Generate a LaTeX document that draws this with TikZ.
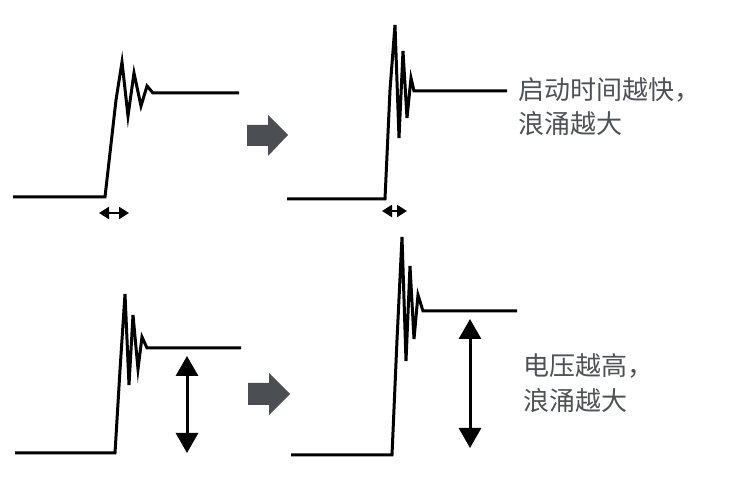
\documentclass[tikz,border=0pt]{standalone}
\usepackage{fontspec}
\newfontfamily\cjk{Noto Sans CJK SC}
\usetikzlibrary{arrows.meta}
\definecolor{arrowgray}{RGB}{75,78,83}
\definecolor{textgray}{RGB}{78,82,86}
\tikzset{
	wave/.style={line width=3pt, line join=miter},
	shortspan/.style={line width=2.2pt, {Triangle[width=12pt,length=10pt]}-{Triangle[width=12pt,length=10pt]}},
	levelspan/.style={line width=3pt, {Triangle[width=22pt,length=20pt]}-{Triangle[width=22pt,length=20pt]}},
	note/.style={anchor=west, inner sep=0pt, text=textgray, font=\cjk\fontsize{26}{30}\selectfont}
}

\begin{document}
\begin{tikzpicture}[x=1pt, y=-1pt]
			%%%%% START %%%%%
			\useasboundingbox (0, 0) rectangle (729, 486);
			
			% slow start
			\draw[wave] (13, 197) -- (105, 197) -- (116, 100) -- (122, 62) -- (128, 116) -- (134, 73) -- (141, 106) -- (147, 86) -- (153, 93) -- (239, 93);
			\draw[shortspan] (99, 213) -- (129, 213);
			
			\fill[arrowgray] (247, 125) -- (268, 125) -- (268, 115) -- (288, 135) -- (268, 156) -- (268, 146) -- (247, 146) -- cycle;
			
			% fast start
			\draw[wave] (287, 199) -- (385, 199) -- (390, 90) -- (395, 25) -- (399, 138) -- (403, 51) -- (407, 118) -- (411, 78) -- (414, 91) -- (507, 91);
			\draw[shortspan] (382, 211) -- (407, 211);
			
			\node[note] (fastA) at (518, 90) {启动时间越快，};
			\node[note] (fastB) at (518, 124) {浪涌越大};
			
			% low voltage
			\draw[wave] (15, 453) -- (115, 453) -- (120, 370) -- (125, 294) -- (129, 385) -- (133, 315) -- (138, 369) -- (142, 337) -- (147, 348) -- (241, 348);
			\draw[levelspan] (187, 356) -- (187, 453);
			
			\fill[arrowgray] (248, 383) -- (269, 383) -- (269, 373) -- (290, 394) -- (269, 415) -- (269, 405) -- (248, 405) -- cycle;
			
			% high voltage
			\draw[wave] (291, 455) -- (392, 455) -- (397, 340) -- (402, 237) -- (406, 361) -- (410, 266) -- (414, 339) -- (418, 295) -- (423, 311) -- (517, 311);
			\draw[levelspan] (470, 319) -- (470, 448);
			
			\node[note] (highA) at (523, 366) {电压越高，};
			\node[note] (highB) at (523, 401) {浪涌越大};
			
			%%%%% END %%%%%
		\end{tikzpicture}
\end{document}
